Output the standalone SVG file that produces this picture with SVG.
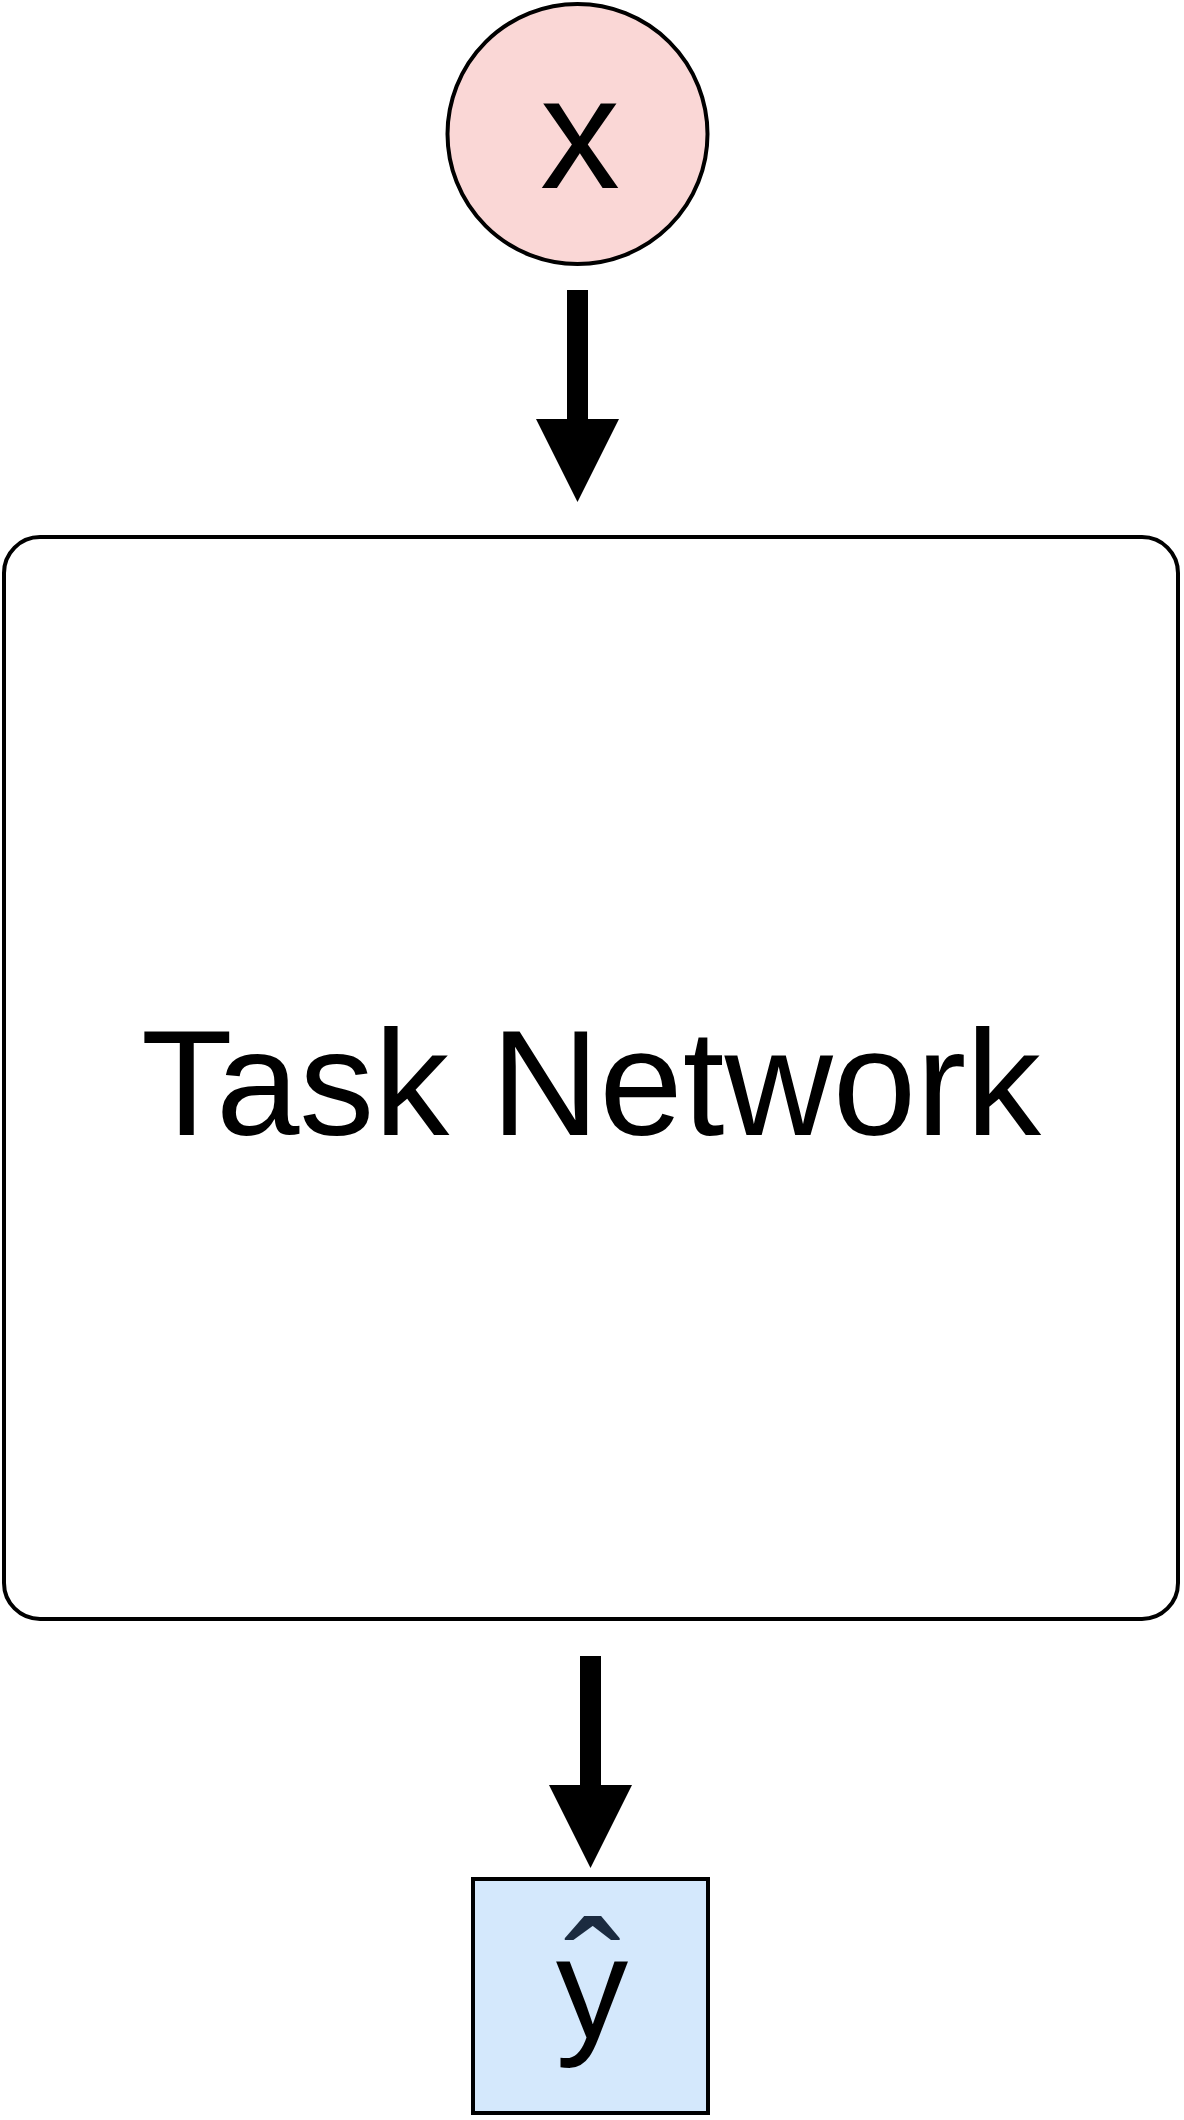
<svg xmlns="http://www.w3.org/2000/svg" width="1184" height="2120" viewBox="0 0 1184 2120">
<style>
.lbl{font-family:"Liberation Sans",Arial,sans-serif;fill:#000;text-anchor:middle}
.ln{stroke:#000;stroke-width:4}
</style>
<rect width="1184" height="2120" fill="#fff"/>
<g id="node-x">
<circle cx="577.5" cy="134" r="130" fill="#fad7d6" class="ln"/>
<text class="lbl" x="580" y="188" font-size="160">x</text>
</g>
<g id="node-task">
<rect x="4" y="537" width="1174" height="1082" rx="36" ry="36" fill="#fff" class="ln"/>
<text class="lbl" x="591" y="1135" font-size="150">Task Network</text>
</g>
<g id="node-yhat">
<rect x="473" y="1879" width="235" height="234" fill="#d4e8fc" class="ln"/>
<text class="lbl" x="592" y="2038" font-size="145">y<tspan x="593" y="2040" font-size="170" style="fill:#1b2b40">ˆ</tspan></text>
</g>
<g id="connectors">
<polygon points="567,290 588,290 588,419 619,419 577.5,502 536,419 567,419"/>
<polygon points="580,1656 601,1656 601,1785 632,1785 590.5,1868 549,1785 580,1785"/>
</g>
</svg>
